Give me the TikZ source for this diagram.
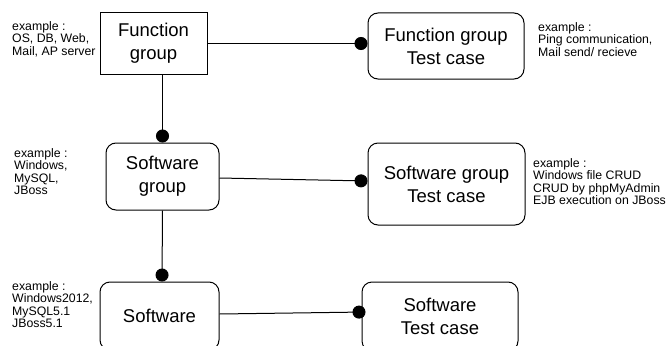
\documentclass[tikz,border=0pt]{standalone}
\usepackage{fontspec}
\setmainfont{Liberation Sans}
\usetikzlibrary{arrows.meta}
\begin{document}
\begin{tikzpicture}[x=1pt,y=-1pt,
  box/.style={draw=black,line width=1pt,inner sep=0pt,align=center,
    font=\fontsize{18.5}{23}\selectfont},
  rbox/.style={box,rounded corners=10pt},
  note/.style={anchor=north west,inner sep=0pt,align=left,
    font=\fontsize{12.3}{12.6}\selectfont},
  conn/.style={line width=1pt,-{Circle[length=13pt,width=13pt]}}]
\useasboundingbox (0,0) rectangle (668,345);
\node[box,minimum width=107pt,minimum height=61pt] (fg) at (153.5,43.5) {Function\\group};
\node[rbox,minimum width=156pt,minimum height=66pt] (fgt) at (446,46) {Function group\\Test case};
\node[rbox,minimum width=113pt,minimum height=67pt] (sg) at (162.5,176.5) {Software\\group};
\node[rbox,minimum width=157pt,minimum height=82pt] (sgt) at (446.5,184) {Software group\\Test case};
\node[rbox,minimum width=119pt,minimum height=68pt] (sw) at (159.5,316) {Software};
\node[rbox,minimum width=156pt,minimum height=69pt] (swt) at (440,316.5) {Software\\Test case};

\node[note] (n1) at (12,21) {example :\\OS, DB, Web,\\Mail, AP server};
\node[note] (n2) at (538,22) {example :\\Ping communication,\\Mail send/ recieve};
\node[note] (n3) at (14,148) {example :\\Windows,\\MySQL,\\JBoss};
\node[note] (n4) at (533,158) {example :\\Windows file CRUD\\CRUD by phpMyAdmin\\EJB execution on JBoss};
\node[note] (n5) at (12,281) {example :\\Windows2012,\\MySQL5.1\\JBoss5.1};

\draw[conn] (fg.east) -- (fgt.west |- fg.east);
\draw[conn] (sg.north |- fg.south) -- (sg.north);
\draw[conn] ([yshift=-1.5pt]sg.east) -- ([yshift=3pt]sgt.west);
\draw[conn] (sg.south) -- ([xshift=2.5pt]sw.north);
\draw[conn] ([yshift=2pt]sw.east) -- ([yshift=4.5pt,xshift=4pt]swt.west);
\end{tikzpicture}
\end{document}
